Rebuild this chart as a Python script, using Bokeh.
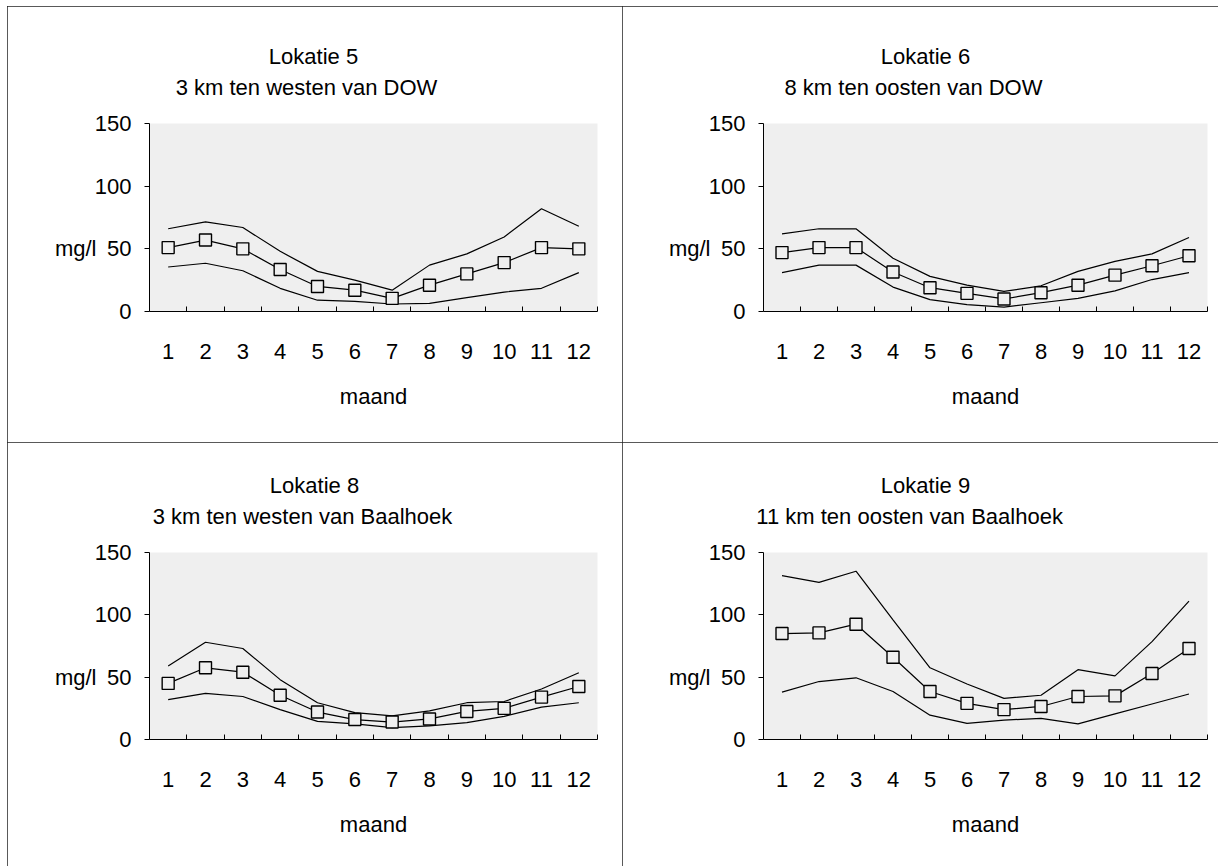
from bokeh.plotting import figure
from bokeh.models import FixedTicker, Range1d, Title, LinearAxis
from bokeh.layouts import column, row
from bokeh.embed import file_html
from bokeh.resources import INLINE

# ---------------- data ----------------
months = list(range(1, 13))
month_labels = [str(m) for m in months]
y_ticks = [0, 50, 100, 150]
y_label = "mg/l"
x_label = "maand"

titles = ["Lokatie 5", "Lokatie 6", "Lokatie 8", "Lokatie 9"]
subtitles = ["3 km ten westen van DOW", "8 km ten oosten van DOW",
             "3 km ten westen van Baalhoek", "11 km ten oosten van  Baalhoek"]

loc5_mean = [51, 57, 50, 33.5, 20, 17, 10.5, 21, 30, 39, 51, 50]
loc5_upper = [66, 71.5, 67, 48, 32, 25, 17, 37, 46, 59.5, 82, 68]
loc5_lower = [35.5, 38.5, 32.5, 18.5, 9, 8, 6, 6.5, 11, 15.5, 18.5, 31]

loc6_mean = [47, 51, 51, 31.5, 19, 14.5, 10, 15, 21, 29, 36.5, 44.5]
loc6_upper = [62, 66, 66, 42.5, 28, 21, 16, 20.5, 32, 40, 46, 59]
loc6_lower = [31, 37, 37, 19.5, 9.5, 5.5, 3.5, 7, 10.5, 16.5, 25.5, 31]

loc8_mean = [45, 57.5, 54, 35.5, 22, 16, 14, 16.5, 22.5, 25, 34, 42.5]
loc8_upper = [59, 78, 73, 48, 29.5, 21.5, 19, 23, 29.5, 30.5, 40.5, 53.5]
loc8_lower = [32, 37, 34.5, 24, 14.5, 12.5, 9.5, 11, 13.5, 18.5, 26, 29.5]

loc9_mean = [85, 85.5, 92.5, 66, 38.5, 29, 24, 26.5, 34.5, 35, 53, 73]
loc9_upper = [131.5, 126, 135, 96, 57.5, 44.5, 33, 35.5, 56, 51, 78.5, 111]
loc9_lower = [38, 46.5, 49.5, 38.5, 19.5, 13, 15.5, 17, 12.5, 20.5, 28.5, 36.5]

FONT = "Liberation Sans"
FS = 22
BG = "#efefef"

# Arial / Liberation Sans advance widths (per 1000 em) for centring titles
_W = {" ": 278, "a": 556, "b": 556, "d": 556, "e": 556, "h": 556, "k": 500,
      "l": 222, "m": 833, "n": 556, "o": 556, "s": 500, "t": 278, "v": 500,
      "w": 722, "i": 222, "L": 556, "D": 722, "O": 778, "W": 944, "B": 667}


def text_width(s, fs):
    return sum(_W.get(c, 556) for c in s) * fs / 1000.0


def make_panel(title, subtitle, mean, upper, lower, width, height,
               left, right, top, bottom, title_center, sub_center):
    p = figure(width=width, height=height,
               x_range=Range1d(0.5, 12.5), y_range=Range1d(0, 150),
               output_backend="svg", toolbar_location=None, tools="",
               min_border_left=left, min_border_right=right,
               min_border_top=top, min_border_bottom=bottom)
    p.background_fill_color = BG
    p.border_fill_color = "white"
    p.outline_line_color = None
    p.grid.visible = False
    p.styles = {"outline": "1px solid #222", "outline-offset": "-1px"}

    xa = p.xaxis[0]
    xa.ticker = FixedTicker(ticks=months, minor_ticks=[m + 0.5 for m in months])
    xa.major_label_overrides = {m: lab for m, lab in zip(months, month_labels)}
    xa.major_tick_in = 0
    xa.major_tick_out = 0
    xa.minor_tick_in = 5
    xa.minor_tick_out = 0
    xa.minor_tick_line_color = "black"
    xa.axis_line_color = "black"
    xa.major_label_standoff = 32
    xa.major_label_text_font = FONT
    xa.major_label_text_font_size = f"{FS}px"
    xa.major_label_text_color = "black"
    xa.axis_label = x_label
    xa.axis_label_text_font = FONT
    xa.axis_label_text_font_size = f"{FS}px"
    xa.axis_label_text_font_style = "normal"
    xa.axis_label_text_color = "black"
    xa.axis_label_standoff = 22

    ya = p.yaxis[0]
    ya.ticker = FixedTicker(ticks=y_ticks)
    ya.major_tick_in = 0
    ya.major_tick_out = 5
    ya.minor_tick_in = 0
    ya.minor_tick_out = 0
    ya.major_tick_line_color = "black"
    ya.axis_line_color = "black"
    ya.major_label_standoff = 13
    ya.major_label_text_font = FONT
    ya.major_label_text_font_size = f"{FS}px"
    ya.major_label_text_color = "black"

    # unit label "mg/l" beside the 50 tick
    unit_axis = LinearAxis(ticker=FixedTicker(ticks=[50]),
                           major_label_overrides={50: y_label},
                           axis_line_color=None, major_tick_line_color=None,
                           minor_tick_line_color=None, major_tick_in=0,
                           major_tick_out=0, minor_tick_in=0, minor_tick_out=0,
                           major_label_standoff=-5,
                           major_label_text_font=FONT,
                           major_label_text_font_size=f"{FS}px",
                           major_label_text_color="black")
    p.add_layout(unit_axis, "left")

    for series in (upper, lower, mean):
        p.line(months, series, line_color="black", line_width=1.2)
    p.scatter(months, mean, marker="square", size=12, fill_color=BG,
              line_color="black", line_width=1.4)

    # titles (two lines), centred on given px positions from frame left
    p.add_layout(Title(text=" ", standoff=0, text_font=FONT,
                       text_font_size=f"{FS - 2}px"), "above")
    p.add_layout(Title(text=subtitle, align="left", standoff=0,
                       offset=sub_center - text_width(subtitle, FS) / 2,
                       text_font=FONT, text_font_size=f"{FS}px",
                       text_font_style="normal", text_color="black"), "above")
    p.add_layout(Title(text=title, align="left", standoff=8,
                       offset=title_center - text_width(title, FS) / 2,
                       text_font=FONT, text_font_size=f"{FS}px",
                       text_font_style="normal", text_color="black"), "above")
    return p


p1 = make_panel(titles[0], subtitles[0], loc5_mean, loc5_upper, loc5_lower,
                615, 436, 142, 25, 117, 131, 164, 157)
p2 = make_panel(titles[1], subtitles[1], loc6_mean, loc6_upper, loc6_lower,
                596, 436, 141, 11, 117, 131, 162, 150)
p3 = make_panel(titles[2], subtitles[2], loc8_mean, loc8_upper, loc8_lower,
                615, 424, 142, 25, 110, 127, 165, 153)
p4 = make_panel(titles[3], subtitles[3], loc9_mean, loc9_upper, loc9_lower,
                596, 424, 141, 11, 110, 127, 162, 150)

layout = column(row(p1, p2), row(p3, p4))
layout.styles = {"margin-left": "7px", "margin-top": "6px"}
open("out.html", "w").write(file_html(layout, INLINE))
